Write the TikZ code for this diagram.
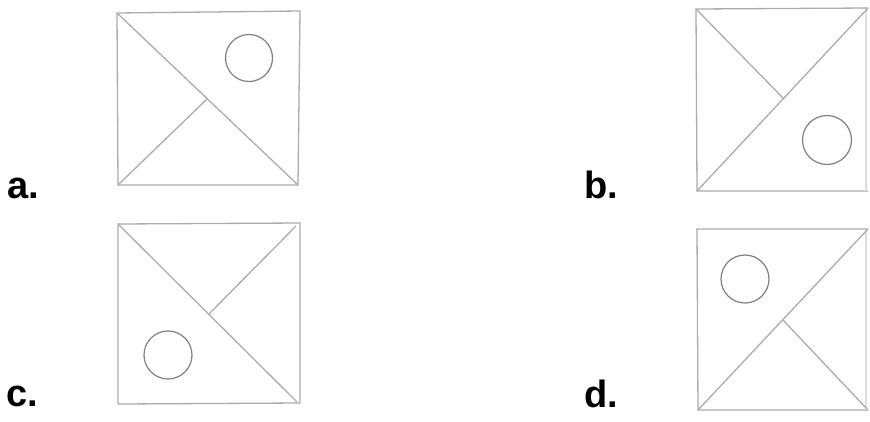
\documentclass[tikz,border=0pt]{standalone}
\usepackage{fontspec}
\setmainfont{Liberation Sans}
\definecolor{pencil}{RGB}{172,172,172}
\definecolor{pencilfaint}{RGB}{222,222,222}
\definecolor{ring}{RGB}{128,128,128}
\begin{document}
\begin{tikzpicture}[x=1pt,y=-1pt,
  edge/.style={draw=pencil,line width=1.3pt},
  faintedge/.style={draw=pencilfaint,line width=1.1pt},
  ring/.style={draw=ring,line width=1.2pt},
  lbl/.style={anchor=base west,inner sep=0pt,font=\fontsize{38}{38}\selectfont\bfseries}]
\useasboundingbox (0,0) rectangle (870,421);
\fill[white] (0,0) rectangle (870,421);
% labels
\node[lbl] (la) at (7,198) {a.};
\node[lbl] (lb) at (584,198) {b.};
\node[lbl] (lc) at (6,406) {c.};
\node[lbl] (ld) at (584,407) {d.};
% box a
\coordinate (aTL) at (117,13);
\coordinate (aTR) at (300,11);
\coordinate (aBR) at (298,185);
\coordinate (aBL) at (118,185);
\coordinate (aC) at (207,99);
\draw[edge] (aTL) -- (aTR) -- (aBR) -- (aBL) -- cycle;
\draw[edge] (aTL) -- (aBR);
\draw[edge] (aBL) -- (aC);
\draw[ring] (249,58) circle (23.5);
% box b
\coordinate (bTL) at (696,9);
\coordinate (bTR) at (868,8);
\coordinate (bBR) at (868,191);
\coordinate (bBL) at (697,191);
\coordinate (bC) at (784,99);
\draw[edge] (bTR) -- (bTL) -- (bBL) -- (bBR);
\draw[faintedge] (866,9) -- (866,191);
\draw[edge] (bBL) -- (bTR);
\draw[edge] (bTL) -- (bC);
\draw[ring] (827,140) circle (24.5);
% box c
\coordinate (cTL) at (118,224);
\coordinate (cTR) at (300,223);
\coordinate (cBR) at (300,403);
\coordinate (cBL) at (118,404);
\coordinate (cC) at (209,314);
\draw[edge] (cTL) -- (cTR) -- (cBR) -- (cBL) -- cycle;
\draw[edge] (cTL) -- (297,402);
\draw[edge] (296,226) -- (cC);
\draw[ring] (168,355) circle (24);
% box d
\coordinate (dTL) at (697,229);
\coordinate (dTR) at (868,229);
\coordinate (dBR) at (868,410);
\coordinate (dBL) at (698,410);
\coordinate (dC) at (783,320);
\draw[edge] (dTR) -- (dTL) -- (dBL) -- (dBR);
\draw[faintedge] (866,230) -- (866,410);
\draw[edge] (dBL) -- (dTR);
\draw[edge] (dC) -- (dBR);
\draw[ring] (745,279) circle (24);
\end{tikzpicture}
\end{document}
